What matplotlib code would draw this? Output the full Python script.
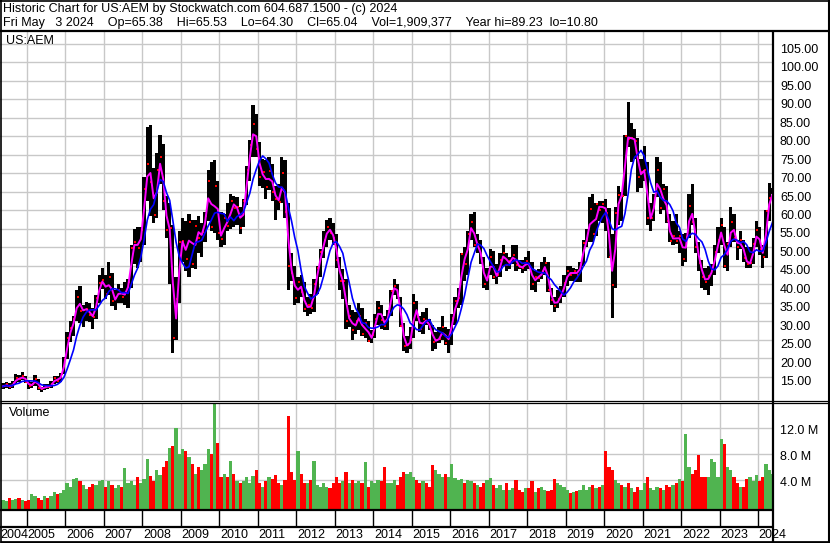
import numpy as np
import pandas as pd
import matplotlib.pyplot as plt
from matplotlib.transforms import blended_transform_factory, ScaledTranslation

plt.rcParams["font.family"] = ["Liberation Sans", "DejaVu Sans"]
plt.rcParams["font.size"] = 9

# monthly bars, May 2004 .. May 2024 (one row per year)
close_px = [
    12.4, 12.9, 12.1, 13.2, 14.6, 14.3, 15.2, 13.7,
    12.4, 13.0, 14.3, 11.9, 11.6, 12.5, 12.1, 13.0, 14.6, 13.8, 15.6, 19.7,
    25.4, 28.3, 30.5, 36.6, 32.8, 33.1, 33.4, 31.6, 31.1, 36.2, 40.3, 41.2,
    37.5, 42.0, 35.4, 36.3, 38.5, 36.5, 37.9, 40.5, 49.8, 51.5, 49.8, 54.6,
    65.8, 72.5, 67.7, 58.8, 70.8, 74.4, 62.5, 54.7, 55.1, 25.5, 36.0, 51.3,
    51.8, 46.8, 56.8, 45.5, 55.7, 52.5, 54.2, 58.6, 67.9, 55.5, 66.7, 54.0,
    52.3, 58.0, 55.7, 62.5, 60.7, 60.8, 55.2, 62.4, 71.0, 77.7, 83.4, 76.7,
    69.0, 70.5, 66.4, 70.6, 65.0, 63.1, 62.3, 70.0, 59.5, 45.0, 43.0, 36.3,
    40.7, 38.0, 33.4, 34.3, 33.6, 40.0, 44.4, 48.8, 51.9, 55.5, 54.0, 52.5,
    46.5, 40.8, 41.0, 30.2, 31.4, 27.5, 30.2, 31.5, 26.5, 29.5, 24.6, 26.4,
    30.5, 33.5, 30.3, 28.8, 32.5, 38.3, 39.6, 37.2, 28.7, 23.4, 23.5, 24.9,
    34.8, 31.2, 28.0, 30.7, 29.7, 28.4, 24.4, 25.0, 25.3, 28.4, 24.0, 26.3,
    31.0, 35.5, 36.2, 48.1, 45.5, 53.5, 56.9, 50.6, 50.8, 46.2, 40.0, 42.0,
    47.5, 42.0, 42.5, 46.5, 48.5, 45.1, 46.4, 48.0, 45.2, 44.7, 44.4, 46.2,
    45.0, 40.1, 42.1, 41.8, 43.5, 45.8, 38.5, 35.8, 34.2, 36.0, 37.5, 40.4,
    43.5, 42.6, 43.5, 42.6, 45.6, 51.2, 52.0, 60.3, 53.6, 61.7, 60.2, 61.6,
    59.4, 47.5, 39.8, 59.3, 64.1, 64.0, 80.0, 79.4, 79.6, 78.8, 69.0, 70.5,
    71.0, 57.8, 57.8, 63.3, 71.0, 60.5, 65.7, 57.0, 51.8, 53.0, 51.8, 53.1,
    46.9, 52.9, 61.2, 56.9, 50.0, 45.8, 42.0, 40.6, 42.3, 44.0, 48.8, 52.0,
    56.0, 45.0, 51.0, 56.9, 52.5, 50.0, 52.0, 47.0, 45.5, 45.7, 51.0, 54.8,
    49.5, 47.5, 59.7, 63.4, 65.0,
]
high_px = [
    13.2, 13.6, 13.2, 13.8, 15.6, 15.4, 16.2, 15.3,
    13.9, 13.6, 15.5, 14.4, 12.3, 13.0, 12.9, 13.8, 15.2, 15.2, 16.0, 20.3,
    27.0, 30.0, 31.5, 38.5, 39.5, 34.5, 35.2, 34.8, 33.5, 37.2, 42.5, 44.5,
    42.5, 46.0, 43.0, 38.5, 40.0, 39.0, 40.5, 41.5, 50.5, 55.0, 55.5, 55.5,
    69.0, 82.5, 83.0, 71.5, 75.5, 80.5, 78.0, 64.0, 62.0, 56.0, 42.0, 54.5,
    58.0, 57.0, 59.0, 57.5, 57.5, 58.5, 56.5, 59.5, 71.0, 73.0, 73.5, 68.0,
    59.5, 59.0, 62.0, 64.5, 64.0, 63.5, 61.0, 63.0, 72.0, 79.0, 88.5, 86.0,
    78.5, 74.0, 73.5, 74.5, 72.5, 66.5, 67.0, 74.5, 73.5, 62.0, 48.5, 45.0,
    42.0, 42.5, 40.5, 36.5, 37.5, 41.5, 45.0, 49.5, 54.5, 57.5, 58.0, 56.5,
    53.5, 47.5, 44.0, 41.5, 34.5, 33.0, 32.5, 35.0, 33.5, 30.5, 30.0, 27.5,
    32.0, 35.5, 34.5, 31.5, 33.0, 38.5, 41.5, 40.0, 36.5, 29.5, 26.0, 28.5,
    37.5, 35.5, 31.5, 32.5, 33.5, 30.5, 29.0, 27.0, 28.5, 31.5, 28.5, 28.0,
    32.0, 36.5, 39.0, 48.5, 50.0, 54.5, 59.0, 59.5, 53.5, 52.0, 47.5, 44.5,
    49.5, 49.0, 45.5, 48.5, 50.5, 48.5, 47.5, 50.5, 50.5, 46.5, 46.5, 47.5,
    49.0, 46.0, 43.5, 44.0, 46.0, 47.5, 46.0, 39.0, 36.5, 38.5, 39.5, 42.5,
    45.0, 45.0, 44.5, 44.0, 46.0, 52.0, 55.0, 63.5, 64.5, 62.0, 62.5, 62.5,
    63.0, 60.5, 53.5, 61.0, 66.5, 65.0, 80.5, 89.2, 83.5, 82.0, 79.5, 74.0,
    77.5, 73.0, 62.0, 64.5, 74.5, 73.0, 67.0, 66.5, 59.0, 57.0, 59.0, 54.5,
    53.5, 54.0, 64.5, 67.0, 58.0, 51.5, 46.5, 44.5, 45.0, 45.5, 50.5, 55.5,
    58.0, 55.5, 51.5, 61.0, 59.0, 52.0, 54.5, 52.0, 50.0, 50.0, 52.5, 57.0,
    55.5, 50.5, 60.0, 67.5, 66.0,
]
low_px = [
    11.6, 12.0, 11.6, 12.0, 13.0, 13.6, 14.0, 13.2,
    11.7, 12.0, 12.6, 11.3, 10.8, 11.5, 11.6, 12.0, 13.0, 13.2, 13.6, 15.6,
    19.8, 24.5, 26.0, 30.0, 29.5, 28.5, 30.0, 29.8, 28.0, 30.5, 35.0, 38.8,
    36.0, 37.0, 34.0, 33.0, 35.0, 35.0, 34.5, 33.5, 39.0, 45.5, 44.5, 46.0,
    50.5, 62.5, 58.5, 56.5, 58.0, 67.0, 60.0, 52.5, 40.0, 21.5, 25.0, 35.0,
    46.0, 43.5, 42.0, 44.5, 44.0, 48.5, 47.5, 51.5, 57.0, 54.5, 54.0, 52.0,
    50.0, 50.5, 54.5, 55.0, 55.5, 56.0, 53.5, 55.5, 61.5, 68.0, 74.5, 74.5,
    66.5, 66.0, 63.0, 65.5, 62.5, 57.5, 60.0, 62.0, 58.0, 38.5, 41.0, 34.5,
    35.0, 36.5, 32.5, 31.5, 32.0, 32.5, 37.5, 42.0, 47.0, 50.0, 52.0, 50.5,
    44.5, 38.5, 36.0, 28.0, 28.5, 25.0, 26.5, 27.5, 26.0, 25.5, 24.5, 24.0,
    25.5, 29.0, 28.0, 27.5, 27.5, 31.5, 37.0, 36.0, 28.5, 22.0, 21.5, 22.5,
    25.5, 30.0, 27.0, 26.5, 29.0, 27.5, 22.0, 22.5, 24.0, 25.0, 23.5, 21.5,
    23.5, 29.0, 33.5, 34.5, 41.0, 42.5, 52.0, 50.0, 48.5, 45.5, 39.0, 38.5,
    42.5, 41.5, 40.0, 42.0, 45.0, 43.5, 44.0, 45.5, 43.5, 44.0, 43.0, 43.5,
    44.0, 38.5, 38.0, 40.5, 41.5, 42.5, 38.0, 34.5, 32.5, 33.5, 35.0, 36.5,
    39.5, 41.0, 41.0, 40.5, 40.5, 45.0, 50.0, 51.5, 51.5, 53.0, 57.0, 56.5,
    54.5, 47.0, 31.0, 39.0, 56.0, 57.0, 64.0, 77.0, 73.0, 74.0, 65.0, 66.0,
    68.0, 56.0, 54.5, 57.0, 63.5, 59.0, 60.0, 56.5, 51.5, 50.5, 51.0, 48.5,
    45.0, 46.0, 52.5, 56.0, 48.5, 43.5, 39.0, 38.5, 37.0, 39.5, 42.5, 48.5,
    50.5, 44.5, 43.5, 50.0, 51.5, 46.5, 49.5, 46.0, 44.5, 44.5, 45.5, 50.0,
    48.0, 44.5, 47.0, 57.0, 64.3,
]
volume_m = [
    1.0, 0.8, 1.2, 0.9, 1.1, 1.3, 1.0, 0.8,
    1.0, 1.8, 1.5, 1.2, 0.9, 1.6, 1.3, 1.5, 2.2, 1.8, 2.0, 2.5,
    3.5, 3.0, 4.2, 4.3, 3.8, 3.3, 2.6, 3.0, 3.4, 3.2, 3.8, 4.0,
    3.0, 3.8, 3.2, 2.8, 3.2, 3.0, 5.8, 3.5, 3.8, 3.2, 4.5, 3.6,
    4.2, 7.2, 4.6, 3.8, 5.5, 4.8, 6.0, 7.0, 9.0, 9.3, 12.0, 8.0,
    8.8, 8.5, 7.5, 6.5, 5.0, 6.0, 5.5, 6.5, 8.8, 8.0, 15.7, 9.7,
    4.5, 5.0, 4.5, 7.0, 5.0, 3.8, 3.5, 3.8, 4.5, 3.5, 4.6, 5.5,
    3.5, 3.0, 3.8, 4.5, 4.2, 4.8, 3.5, 3.2, 4.0, 13.8, 5.2, 4.0,
    8.4, 5.0, 3.5, 3.5, 4.0, 7.0, 3.2, 3.0, 3.5, 3.0, 2.8, 3.5,
    4.5, 3.5, 3.8, 5.2, 3.5, 4.0, 3.5, 3.8, 3.5, 6.8, 3.0, 3.8,
    3.5, 4.0, 3.8, 6.0, 3.5, 3.5, 4.0, 3.2, 4.5, 5.3, 5.0, 5.2,
    4.5, 4.0, 3.5, 3.8, 3.5, 3.0, 6.3, 5.5, 5.0, 4.5, 5.0, 4.5,
    6.5, 4.3, 4.0, 4.2, 3.5, 4.0, 3.8, 3.5, 3.3, 3.0, 3.5, 4.0,
    4.3, 3.2, 2.8, 3.2, 2.5, 3.5, 2.5, 2.8, 4.0, 2.5, 2.2, 2.8,
    2.8, 3.8, 2.2, 2.8, 3.0, 2.5, 2.3, 2.5, 4.2, 3.5, 3.2, 3.0,
    2.5, 2.0, 2.2, 2.3, 2.5, 3.3, 2.5, 3.0, 3.2, 2.8, 3.0, 3.2,
    8.5, 6.0, 5.5, 4.0, 3.5, 3.2, 3.0, 3.5, 2.8, 2.2, 3.0, 2.5,
    3.5, 4.4, 2.8, 2.5, 3.0, 2.8, 2.5, 3.2, 3.0, 3.2, 3.5, 4.2,
    3.8, 11.1, 6.0, 5.0, 5.5, 7.8, 4.5, 4.5, 4.5, 7.2, 6.8, 4.5,
    10.3, 9.5, 6.0, 5.5, 4.5, 3.5, 3.0, 3.0, 4.2, 4.5, 3.8, 4.8,
    3.8, 4.5, 6.4, 5.5, 5.0,
]
years = list(range(2004, 2025))
price_ticks = list(range(15, 110, 5))
volume_ticks = [4, 8, 12]

header_1 = "Historic Chart for US:AEM by Stockwatch.com 604.687.1500 - (c) 2024"
header_2 = ("Fri May   3 2024    Op=65.38    Hi=65.53    Lo=64.30    Cl=65.04    "
            "Vol=1,909,377    Year hi=89.23  lo=10.80")

months = pd.period_range("2004-05", periods=len(close_px), freq="M")
t = months.year + (months.month - 0.5) / 12
close = pd.Series(close_px)
ma_fast = close.rolling(2, min_periods=1).mean()
ma_slow = close.rolling(6, min_periods=1).mean()
up = close.diff().fillna(0) >= 0

W, H = 830, 543
fig = plt.figure(figsize=(W / 100, H / 100), dpi=100)


def fx(px):
    return px / W


def fy(py):
    return 1 - py / H


GRID = "#c8c8c8"
XL = (2004.298, 2024.39)

ax = fig.add_axes([0, fy(400), fx(773), fy(31) - fy(400)])
axv = fig.add_axes([0, fy(510), fx(773), fy(403) - fy(510)])

for a in (ax, axv):
    a.set_xlim(*XL)
    a.set_xticks(years[1:])
    a.tick_params(axis="x", length=0, labelbottom=False)
    a.tick_params(axis="y", length=0, pad=5, labelleft=False, labelright=True)
    a.grid(True, color=GRID, lw=1)
    a.set_axisbelow(True)
    for s in a.spines.values():
        s.set_visible(False)

# price panel
ax.set_ylim(8.7, 108.5)
ax.set_yticks(price_ticks)
ax.set_yticklabels([f"{v:.2f}" for v in price_ticks])
ax.bar(t, np.array(high_px) - np.array(low_px), bottom=low_px,
       width=1 / 12, color="black", lw=0)
ax.plot(t + 1 / 40, close_px, ls="none", marker="s", ms=1.6, color="red", mew=0)
ax.plot(t, ma_fast, color="#ff00ff", lw=1.4)
ax.plot(t, ma_slow, color="#0000ff", lw=1.2)
ax.text(6 / 773, 1 - 10 / 369, "US:AEM", transform=ax.transAxes,
        ha="left", va="center")

# volume panel
VB = 0.6
axv.set_ylim(-VB, 15.85)
axv.set_yticks(volume_ticks)
axv.set_yticklabels([f"{v:.1f} M" for v in volume_ticks])
vcol = np.where(up, "#50b450", "#ff0000")
axv.bar(t, np.array(volume_m) + VB, bottom=-VB, width=1 / 12,
        color=vcol, lw=0)
axv.text(9 / 773, 1 - 10 / 107, "Volume", transform=axv.transAxes,
         ha="left", va="center")

for a, dy in ((ax, -3), (axv, -1)):
    shift = ScaledTranslation(0, dy / 72, fig.dpi_scale_trans)
    for lab in a.get_yticklabels():
        lab.set_transform(lab.get_transform() + shift)

# year strip and labels below the volume panel
tr = blended_transform_factory(axv.transData, fig.transFigure)
axv.vlines(years[1:], fy(527), fy(510), transform=tr, color="black",
           lw=1, clip_on=False)
for y in years:
    xpos = y if y > years[0] else XL[0]
    axv.text(xpos + 0.02, fy(535), str(y), transform=tr, ha="left",
             va="center", clip_on=False)

# header
fig.text(fx(3), fy(9), header_1, ha="left", va="center")
fig.text(fx(3), fy(23), header_2, ha="left", va="center")

# frame lines
frame = fig.add_axes([0, 0, 1, 1], facecolor="none")
frame.set_xlim(0, W)
frame.set_ylim(H, 0)
frame.axis("off")
kw = dict(color="black", solid_capstyle="butt")
frame.plot([0, W], [0.5, 0.5], lw=1.2, **kw)
frame.plot([0, W], [H - 1, H - 1], lw=2, **kw)
frame.plot([0.5, 0.5], [0, H], lw=1.2, **kw)
frame.plot([W - 1, W - 1], [0, H], lw=1.5, **kw)
frame.plot([0, W], [31, 31], lw=1.6, **kw)
frame.plot([0, W], [400.5, 400.5], lw=0.9, **kw)
frame.plot([0, W], [403, 403], lw=0.9, **kw)
frame.plot([0, 773], [510, 510], lw=1.6, **kw)
frame.plot([0, 773], [527, 527], lw=1.6, **kw)
frame.plot([773, 773], [31, H], lw=1.6, **kw)

fig.savefig("out.png", dpi=100)
